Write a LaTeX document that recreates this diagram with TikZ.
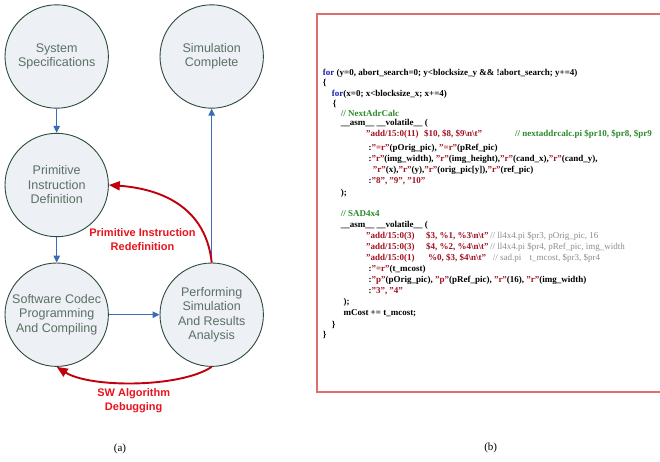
\documentclass[tikz,border=0pt]{standalone}
\usepackage{fontspec}
\setmainfont{Liberation Serif}
\newfontfamily\diagfont{Liberation Sans}
\usetikzlibrary{arrows.meta}

\definecolor{circfill}{HTML}{EDF0F4}
\definecolor{circline}{HTML}{2D4A3A}
\definecolor{circtext}{HTML}{5B7065}
\definecolor{flowblue}{HTML}{3A6DB5}
\definecolor{loopred}{HTML}{C0000C}
\definecolor{labred}{HTML}{E8141E}
\definecolor{framered}{HTML}{DD6E6E}
\definecolor{kwblue}{HTML}{1A1AAA}
\definecolor{strred}{HTML}{A01020}
\definecolor{cmtgreen}{HTML}{2A8A2A}
\definecolor{cmtgray}{HTML}{8C8C8C}

\newcommand\codekw[1]{\textcolor{kwblue}{#1}}
\newcommand\codestr[1]{\textcolor{strred}{#1}}
\newcommand\codecmt[1]{\textcolor{cmtgreen}{#1}}
\newcommand\codegray[1]{{\mdseries\color{cmtgray}#1}}
\newcommand\bsl{\textbackslash}

\tikzset{
  stage/.style={circle, draw=circline, line width=0.9pt, fill=circfill,
    minimum size=103.4pt, inner sep=0pt, align=center, text=circtext,
    font=\diagfont\fontsize{12.5}{14.5}\selectfont},
  flow/.style={draw=flowblue, line width=1.1pt,
    -{Triangle[length=7pt,width=6.5pt]}},
  loop/.style={draw=loopred, line width=1.9pt,
    -{Triangle[length=11pt,width=9pt]}},
  looplabel/.style={align=center, text=labred, inner sep=0pt,
    font=\diagfont\bfseries\fontsize{11}{14}\selectfont},
  codeline/.style={anchor=base west, inner sep=0pt,
    font=\fontsize{9}{10}\selectfont\bfseries},
  caption/.style={inner sep=0pt, font=\fontsize{11}{13}\selectfont},
}

\begin{document}
\begin{tikzpicture}[x=1pt, y=-1pt]
\useasboundingbox (0,0) rectangle (660,461);

% ---- design flow ----
\node[stage] (sys)  at (56.7,56.5)  {System\\Specifications};
\node[stage] (sim)  at (211.7,56.5) {Simulation\\Complete};
\node[stage] (prim) at (56.7,185)   {Primitive\\Instruction\\Definition};
\node[stage] (soft) at (56.7,314.7) {Software Codec\\Programming\\And Compiling};
\node[stage] (perf) at (211.7,314.7) {Performing\\Simulation\\And Results\\Analysis};

\draw[flow] (sys) -- (prim);
\draw[flow] (prim) -- (soft);
\draw[flow] (soft) -- (perf);
\draw[flow] (perf) -- (sim);

\draw[loop] (perf.north) .. controls (205,200) and (150,188) .. (prim.east);
\draw[loop] (perf.south) .. controls (180,388) and (90,388) .. (soft.south);

\node[looplabel] (lblredef) at (142.5,240) {Primitive Instruction\\Redefinition};
\node[looplabel] (lbldebug) at (133.7,400.5) {SW Algorithm\\Debugging};

\node[caption] (capa) at (120,449) {(a)};

% ---- code listing ----
\draw[framered, line width=1.6pt] (660,14) -- (317,14) -- (317,392) -- (660,392);

\node[codeline] (c1) at (322.7,75.7) {\codekw{for} (y=0, abort\_search=0; y<blocksize\_y \&\& !abort\_search; y+=4)};
\node[codeline] (c2) at (322.7,85.7) {\{};
\node[codeline] (c3) at (331.7,96.3) {\codekw{for}(x=0; x<blocksize\_x; x+=4)};
\node[codeline] (c4) at (332.7,106.3) {\{};
\node[codeline] (c5) at (340.7,116.3) {\codecmt{// NextAdrCalc}};
\node[codeline] (c6) at (340.7,125.7) {\_\_asm\_\_ \_\_volatile\_\_ (};
\node[codeline] (c7a) at (366,136.3) {\codestr{"add/15:0(11)}};
\node[codeline] (c7b) at (424,136.3) {\codestr{\$10, \$8, \$9\bsl n\bsl t"}};
\node[codeline] (c7c) at (515,136.3) {\codecmt{// nextaddrcalc.pi \$pr10, \$pr8, \$pr9}};
\node[codeline] (c8) at (368.3,150) {:\codestr{"=r"}(pOrig\_pic), \codestr{"=r"}(pRef\_pic)};
\node[codeline] (c9) at (368.3,161.5) {:\codestr{"r"}(img\_width), \codestr{"r"}(img\_height),\codestr{"r"}(cand\_x),\codestr{"r"}(cand\_y),};
\node[codeline] (c10) at (372.7,172.5) {\codestr{"r"}(x),\codestr{"r"}(y),\codestr{"r"}(orig\_pic[y]),\codestr{"r"}(ref\_pic)};
\node[codeline] (c11) at (368.3,183) {:\codestr{"8", "9", "10"}};
\node[codeline] (c12) at (340.7,195.7) {);};
\node[codeline] (c13) at (340.7,216.3) {\codecmt{// SAD4x4}};
\node[codeline] (c14) at (340.7,227.3) {\_\_asm\_\_ \_\_volatile\_\_ (};
\node[codeline] (c15a) at (366,238) {\codestr{"add/15:0(3)}};
\node[codeline] (c15b) at (426,238) {\codestr{\$3, \%1, \%3\bsl n\bsl t"}};
\node[codeline] (c15c) at (490,238) {\codegray{// ll4x4.pi \$pr3, pOrig\_pic, 16}};
\node[codeline] (c16a) at (366,249) {\codestr{"add/15:0(3)}};
\node[codeline] (c16b) at (426,249) {\codestr{\$4, \%2, \%4\bsl n\bsl t"}};
\node[codeline] (c16c) at (490,249) {\codegray{// ll4x4.pi \$pr4, pRef\_pic, img\_width}};
\node[codeline] (c17a) at (366,260.3) {\codestr{"add/15:0(1)}};
\node[codeline] (c17b) at (428,260.3) {\codestr{\%0, \$3, \$4\bsl n\bsl t"}};
\node[codeline] (c17c) at (492.7,260.3) {\codegray{// sad.pi\hspace{6pt} t\_mcost, \$pr3, \$pr4}};
\node[codeline] (c18) at (368.3,271.3) {:\codestr{"=r"}(t\_mcost)};
\node[codeline] (c19) at (368.3,282.3) {:\codestr{"p"}(pOrig\_pic), \codestr{"p"}(pRef\_pic), \codestr{"r"}(16), \codestr{"r"}(img\_width)};
\node[codeline] (c20) at (368.3,293) {:\codestr{"3", "4"}};
\node[codeline] (c21) at (343.3,304.7) {);};
\node[codeline] (c22) at (343.3,315.7) {mCost += t\_mcost;};
\node[codeline] (c23) at (331.7,327) {\}};
\node[codeline] (c24) at (322.7,337.3) {\}};

\node[caption] (capb) at (490.7,448.3) {(b)};
\end{tikzpicture}
\end{document}
